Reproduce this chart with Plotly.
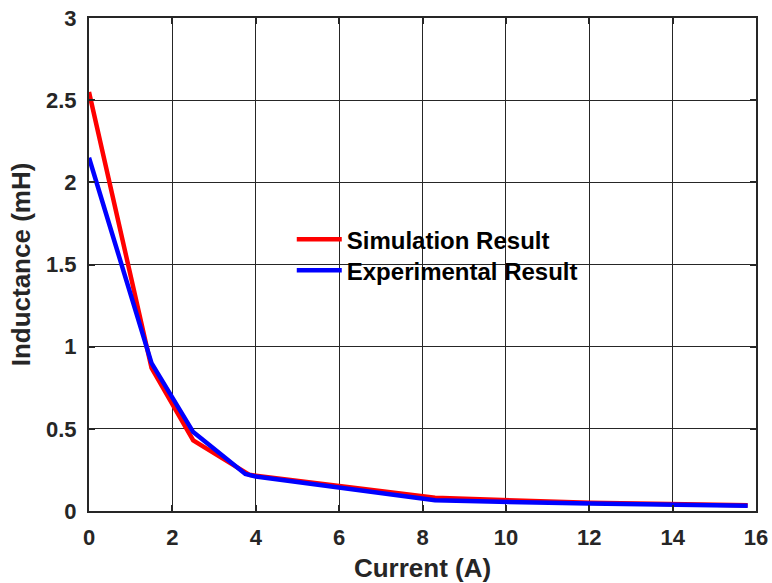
import plotly.graph_objects as go

# Inductance vs. current
sim_current = [0, 1.5, 2.5, 3.85, 8.3, 12, 15.8]
sim_inductance = [2.55, 0.87, 0.43, 0.22, 0.08, 0.05, 0.035]

exp_current = [0, 1.5, 2.5, 3.75, 4.0, 8.3, 12, 15.8]
exp_inductance = [2.15, 0.90, 0.48, 0.225, 0.21, 0.065, 0.045, 0.032]

x_ticks = [0, 2, 4, 6, 8, 10, 12, 14, 16]
y_ticks = [0, 0.5, 1, 1.5, 2, 2.5, 3]
y_tick_text = ["0", "0.5", "1", "1.5", "2", "2.5", "3"]

font_family = "Liberation Sans, Arial, sans-serif"
ink = "#262626"

fig = go.Figure()
fig.add_trace(go.Scatter(x=sim_current, y=sim_inductance, mode="lines",
                         name="Simulation Result", legend="legend",
                         line=dict(color="#ff0000", width=4.5)))
fig.add_trace(go.Scatter(x=exp_current, y=exp_inductance, mode="lines",
                         name="Experimental Result", legend="legend2",
                         line=dict(color="#0000ff", width=4.5)))

axis_common = dict(
    showline=True, linecolor=ink, linewidth=2, mirror="ticks",
    showgrid=True, gridcolor="#262626", gridwidth=1,
    ticks="inside", ticklen=6, tickwidth=2, tickcolor=ink,
    zeroline=False, ticklabelstandoff=6, automargin=False,
    tickfont=dict(family=font_family, size=22, color=ink, weight="bold"),
)

fig.update_xaxes(range=[0, 16], tickvals=x_ticks,
                 title=dict(text="<b>Current (A)</b>", standoff=10,
                            font=dict(family=font_family, size=26, color=ink)),
                 **axis_common)
fig.update_yaxes(range=[0, 3], tickvals=y_ticks, ticktext=y_tick_text,
                 title=dict(text="<b>Inductance (mH)</b>", standoff=8,
                            font=dict(family=font_family, size=26, color=ink)),
                 **axis_common)

legend_style = dict(xanchor="left", yanchor="top",
                    bgcolor="rgba(0,0,0,0)", borderwidth=0,
                    font=dict(family=font_family, size=24, color="black", weight="bold"),
                    itemwidth=45)

fig.update_layout(
    width=772, height=583,
    margin=dict(l=89, r=16, t=18, b=72),
    paper_bgcolor="white", plot_bgcolor="white",
    showlegend=True,
    legend=dict(x=0.304, y=0.596, **legend_style),
    legend2=dict(x=0.304, y=0.533, **legend_style),
)

fig.write_html("out.html")
